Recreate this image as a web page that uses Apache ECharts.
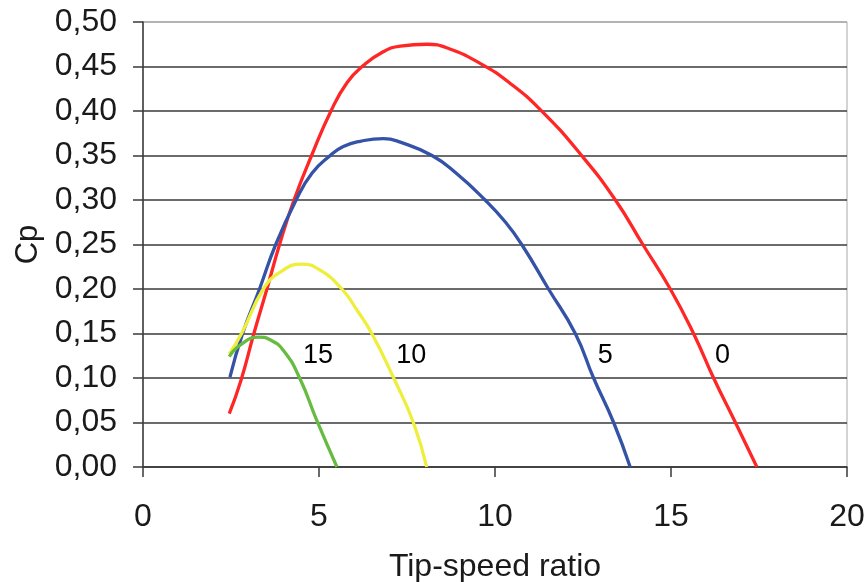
<!DOCTYPE html>
<html>
<head>
<meta charset="utf-8">
<script src="https://cdn.jsdelivr.net/npm/echarts@6/dist/echarts.min.js"></script>
<style>html,body{margin:0;padding:0;background:#fff;}#c{width:868px;height:582px;}</style>
</head>
<body>
<div id="c"></div>
<script>
const xTicks = [0, 5, 10, 15, 20];
const yTicks = [0, 0.05, 0.10, 0.15, 0.20, 0.25, 0.30, 0.35, 0.40, 0.45, 0.50];
const pitch0 = [[2.45,0.06],[2.78,0.097],[3.15,0.15],[3.52,0.20],[3.88,0.25],[4.29,0.30],[4.79,0.35],[5.34,0.40],[5.8,0.432],[6.26,0.451],[6.8,0.466],[7.31,0.473],[8.06,0.475],[8.7,0.470],[9.6,0.453],[10.4,0.432],[11.3,0.401],[12.46,0.35],[13.42,0.30],[14.2,0.25],[14.98,0.20],[15.64,0.15],[16.21,0.10],[16.83,0.05],[17.44,0]];
const pitch5 = [[2.47,0.101],[2.83,0.15],[3.31,0.20],[3.77,0.25],[4.35,0.30],[4.8,0.33],[5.32,0.35],[5.69,0.36],[6.17,0.366],[6.83,0.369],[7.31,0.365],[8.21,0.35],[8.9,0.33],[9.72,0.30],[10.3,0.275],[10.76,0.25],[11.52,0.20],[12.28,0.15],[12.8,0.10],[13.37,0.05],[13.84,0]];
const pitch10 = [[2.45,0.127],[2.8,0.15],[3.42,0.20],[3.9,0.219],[4.5,0.228],[5.0,0.222],[5.65,0.20],[6.1,0.175],[6.5,0.15],[7.12,0.10],[7.68,0.05],[8.06,0]];
const pitch15 = [[2.45,0.124],[2.76,0.137],[3.28,0.146],[3.61,0.143],[3.99,0.131],[4.45,0.10],[4.94,0.052],[5.51,0]];
const curveLabels = [['15',4.97,0.1255],['10',7.62,0.1255],['5',13.13,0.1255],['0',16.46,0.1255]];

const FONT = 'Liberation Sans, Arial, sans-serif';
const chart = echarts.init(document.getElementById('c'), null, {renderer:'canvas'});
const splitColors = yTicks.map((v,i)=> i === yTicks.length-1 ? '#a8a8a8' : '#3a3a3a');
function line(data, color){
  return {type:'line', data:data, smooth:0.5, symbol:'none', lineStyle:{color:color, width:3.3}, z:3};
}
chart.setOption({
  animation:false,
  backgroundColor:'#fff',
  grid:{left:143, right:21, top:22, bottom:115, show:true, borderColor:'#a8a8a8', borderWidth:1,
    containLabel:false, outerBoundsMode:'none'},
  xAxis:{type:'value', min:xTicks[0], max:xTicks[xTicks.length-1], interval:5,
    name:'Tip-speed ratio', nameLocation:'middle', nameGap:84,
    nameTextStyle:{fontFamily:FONT, fontSize:32, color:'#1a1a1a'},
    axisLine:{show:true, onZero:false, lineStyle:{color:'#3a3a3a', width:1.5}},
    axisTick:{show:true, length:10, lineStyle:{color:'#3a3a3a', width:1.5}},
    axisLabel:{fontFamily:FONT, fontSize:32, color:'#1a1a1a', margin:34},
    splitLine:{show:false}},
  yAxis:{type:'value', min:0, max:0.5, interval:0.05,
    name:'Cp', nameLocation:'middle', nameGap:99,
    nameTextStyle:{fontFamily:FONT, fontSize:31, color:'#1a1a1a'},
    axisLine:{show:true, lineStyle:{color:'#3a3a3a', width:1.5}},
    axisTick:{show:true, length:10, lineStyle:{color:'#3a3a3a', width:1.5}},
    axisLabel:{fontFamily:FONT, fontSize:32, color:'#1a1a1a', margin:26,
      formatter:(v)=> v.toFixed(2).replace('.', ',')},
    splitLine:{show:true, lineStyle:{color:splitColors, width:1.5}}},
  series:[
    line(pitch0,'#ff2626'),
    line(pitch5,'#3453a6'),
    line(pitch10,'#eeee3c'),
    line(pitch15,'#66bb40'),
    {type:'scatter', symbolSize:0, silent:true, data:curveLabels.map(d=>({name:d[0], value:[d[1],d[2]]})),
      label:{show:true, position:'inside', formatter:(p)=>p.name, fontFamily:FONT, fontSize:27, color:'#000', opacity:1}, z:4}
  ]
});
</script>
</body>
</html>
